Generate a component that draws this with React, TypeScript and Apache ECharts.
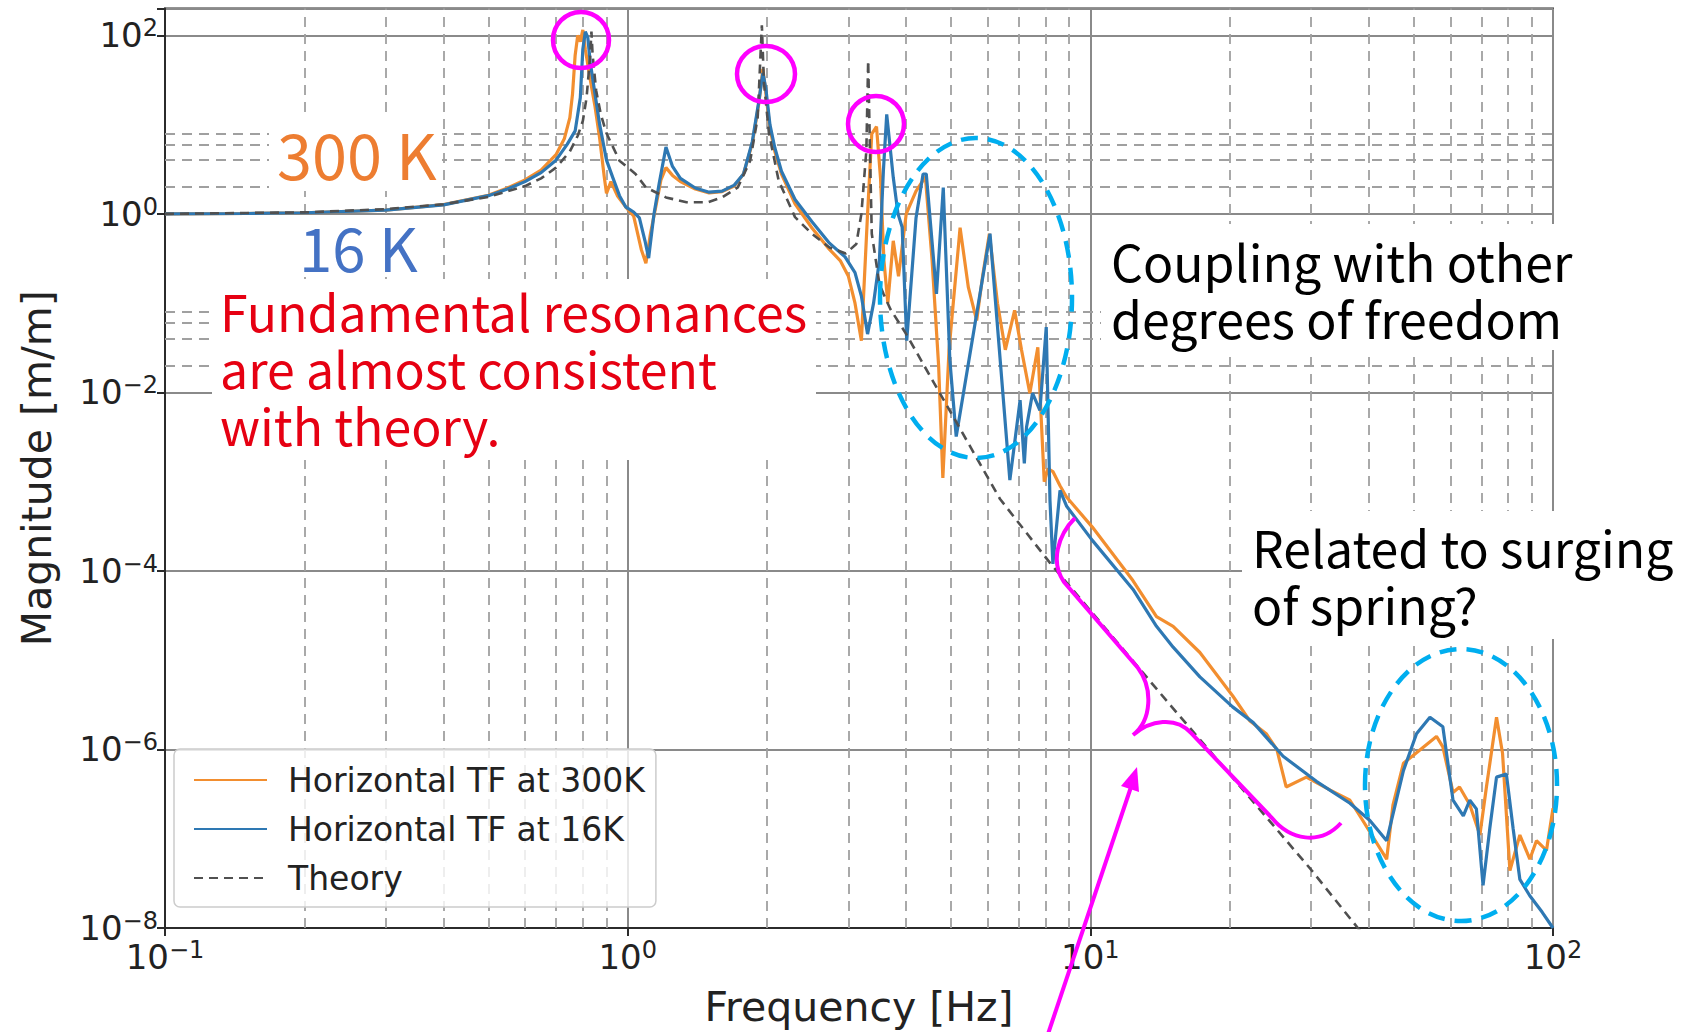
import React, { useEffect, useRef } from "react";
import * as echarts from "echarts";

// ---------- data ----------
const freq300K = [0.1, 0.15, 0.2, 0.3, 0.4, 0.5, 0.55, 0.6, 0.65, 0.7, 0.73, 0.75, 0.76, 0.77, 0.78, 0.79, 0.8, 0.81, 0.83, 0.85, 0.87, 0.89, 0.9, 0.92, 0.95, 0.99, 1.03, 1.07, 1.095, 1.12, 1.15, 1.18, 1.21, 1.25, 1.3, 1.4, 1.5, 1.6, 1.7, 1.78, 1.86, 1.92, 1.96, 1.99, 2.03, 2.08, 2.15, 2.3, 2.5, 2.73, 2.88, 3.0, 3.1, 3.2, 3.3, 3.37, 3.45, 3.52, 3.58, 3.65, 3.75, 3.85, 4.0, 4.2, 4.4, 4.55, 4.7, 4.8, 4.95, 5.23, 5.45, 5.68, 5.85, 6.05, 6.3, 6.55, 6.86, 7.1, 7.4, 7.7, 7.95, 8.1, 8.3, 8.6, 8.89, 10.1, 12.36, 13.9, 15.1, 17.25, 20.3, 22.1, 24.0, 25.3, 26.5, 29.3, 33, 36.4, 38.8, 43.7, 45.1, 47.5, 50.7, 56, 57.8, 60.8, 62.8, 66.1, 69.5, 71.8, 75.5, 77.8, 80.7, 84.8, 89.1, 92.1, 96.8, 100];
const mag300K = [1.0, 1.01, 1.03, 1.1, 1.27, 1.62, 1.95, 2.4, 3.1, 4.6, 7, 12, 22, 60, 100, 85, 115, 70, 32, 16, 7, 2.6, 1.7, 2.3, 1.6, 1.2, 0.95, 0.4, 0.28, 0.6, 1.2, 2.4, 3.3, 2.7, 2.3, 1.9, 1.72, 1.78, 2.05, 2.8, 6.2, 17, 42, 22, 9, 5, 2.8, 1.3, 0.7, 0.4, 0.3, 0.2, 0.1, 0.038, 1.0, 7.9, 9.5, 2.5, 0.3, 0.1, 0.5, 0.2, 1.0, 1.8, 2.6, 0.3, 0.02, 1.1e-3, 0.03, 0.7, 0.15, 0.064, 0.2, 0.6, 0.1, 0.03, 0.083, 0.03, 9.8e-3, 0.032, 1.0e-3, 1.4e-3, 1.3e-3, 9e-4, 6.7e-4, 3.1e-4, 7.8e-5, 3.07e-5, 2.4e-5, 1.22e-5, 4.0e-6, 2.1e-6, 1.5e-6, 1.0e-6, 3.8e-7, 4.9e-7, 3.5e-7, 2.7e-7, 1.6e-7, 5.9e-8, 2.4e-7, 7e-7, 9.2e-7, 1.4e-6, 1.07e-6, 3.3e-7, 3.8e-7, 2.4e-7, 1.1e-7, 3.8e-7, 2.3e-6, 9e-7, 4.4e-8, 1.1e-7, 5.9e-8, 9.5e-8, 7.4e-8, 2.2e-7];

const freq16K = [0.1, 0.15, 0.2, 0.3, 0.4, 0.5, 0.55, 0.6, 0.65, 0.7, 0.74, 0.77, 0.79, 0.8, 0.81, 0.82, 0.83, 0.85, 0.87, 0.9, 0.93, 0.96, 0.99, 1.03, 1.06, 1.09, 1.11, 1.14, 1.17, 1.21, 1.25, 1.3, 1.4, 1.5, 1.6, 1.7, 1.78, 1.86, 1.92, 1.96, 1.99, 2.03, 2.08, 2.15, 2.3, 2.5, 2.73, 2.95, 3.1, 3.2, 3.3, 3.4, 3.5, 3.57, 3.63, 3.75, 3.84, 3.92, 4.01, 4.2, 4.35, 4.42, 4.65, 4.81, 4.97, 5.13, 6.07, 6.7, 7.05, 7.2, 7.28, 7.5, 7.78, 8.03, 8.18, 8.3, 8.6, 8.89, 10.1, 12.37, 13.9, 15.1, 17.25, 20.3, 22.5, 26.1, 30.8, 36.4, 40.2, 43.7, 47.5, 50.7, 54.2, 57.8, 60.8, 64, 66.1, 68.3, 70.6, 73, 75.5, 79.3, 82, 84.8, 89.1, 94.8, 100];
const mag16K = [1.0, 1.01, 1.03, 1.1, 1.26, 1.6, 1.9, 2.3, 2.9, 4.0, 6.0, 8.5, 20, 70, 110, 95, 50, 22, 10, 4.0, 2.5, 1.6, 1.2, 1.05, 0.9, 0.5, 0.32, 1.0, 2.2, 5.6, 3.4, 2.5, 1.95, 1.75, 1.8, 2.1, 2.8, 6.5, 18, 38, 25, 10, 5.5, 3.0, 1.45, 0.82, 0.47, 0.33, 0.22, 0.12, 0.045, 0.1, 0.3, 3, 13, 2.57, 1.0, 0.71, 0.038, 0.9, 2.8, 2.8, 0.127, 1.97, 0.023, 3.2e-3, 0.6, 1.04e-3, 8.2e-3, 1.6e-3, 4.1e-3, 9.8e-3, 6.3e-3, 0.054, 6.2e-4, 1.2e-4, 8e-4, 5.3e-4, 2.2e-4, 6.2e-5, 2.4e-5, 1.4e-5, 6.5e-6, 3.0e-6, 2.0e-6, 8.4e-7, 4.4e-7, 2.5e-7, 1.6e-7, 9.5e-8, 5.8e-7, 1.5e-6, 2.3e-6, 1.8e-6, 2.7e-7, 1.8e-7, 2.7e-7, 2.16e-7, 3e-8, 1.3e-7, 4.9e-7, 5.3e-7, 1.3e-7, 3.5e-8, 2.3e-8, 1.5e-8, 1.0e-8];

const freqTheory = [0.1, 0.2, 0.3, 0.4, 0.5, 0.6, 0.65, 0.7, 0.75, 0.78, 0.8, 0.815, 0.83, 0.835, 0.84, 0.855, 0.875, 0.9, 0.96, 1.04, 1.095, 1.21, 1.34, 1.49, 1.6, 1.73, 1.84, 1.91, 1.95, 1.97, 2.02, 2.12, 2.3, 2.5, 2.73, 2.96, 3.12, 3.2, 3.28, 3.31, 3.34, 3.37, 3.5, 3.57, 3.7, 4.0, 5.0, 6.38, 8.18, 10, 15, 20, 30, 40];
const magTheory = [1.0, 1.04, 1.13, 1.28, 1.55, 2.05, 2.5, 3.3, 5.0, 7.5, 11, 20, 60, 110, 60, 24, 13, 8, 3.95, 2.8, 1.98, 1.53, 1.35, 1.35, 1.53, 1.98, 3.95, 12, 130, 30, 8, 2.36, 0.92, 0.6, 0.42, 0.36, 0.46, 1.0, 5.1, 52, 5, 0.6, 0.165, 0.128, 0.085, 0.045, 5.9e-3, 6.4e-4, 1.23e-4, 3.6e-5, 3.0e-6, 5.3e-7, 4.5e-8, 7e-9];

const xMinorGrid = [0.2, 0.3, 0.4, 0.5, 0.6, 0.7, 0.8, 0.9, 2, 3, 4, 5, 6, 7, 8, 9, 20, 30, 40, 50, 60, 70, 80, 90];
const yMinorGrid = [2e-8, 4e-8, 6e-8, 8e-8, 2e-6, 4e-6, 6e-6, 8e-6, 2e-4, 4e-4, 6e-4, 8e-4, 2e-2, 4e-2, 6e-2, 8e-2, 2, 4, 6, 8];

const seriesNames = ["Horizontal TF at 300K", "Horizontal TF at 16K", "Theory"];
const axisTitles = { x: "Frequency [Hz]", y: "Magnitude [m/m]" };

const noteFundamental = ["Fundamental resonances", "are almost consistent", "with theory."];
const noteCoupling = ["Coupling with other", "degrees of freedom"];
const noteSurging = ["Related to surging", "of spring?"];

const W = 1703;
const H = 1032;
const MPL = "'DejaVu Sans', sans-serif";
const JP = "'Noto Sans CJK JP', 'Noto Sans', sans-serif";

const pairs = (xs: number[], ys: number[]) => xs.map((x, i) => [x, ys[i]]);

const powLabel = (v: number) => {
  const e = Math.log10(v);
  const r = Math.round(e);
  if (Math.abs(e - r) > 1e-6) return "";
  const s = r < 0 ? "\u2212" + -r : String(r);
  return "10{sup|" + s + "}";
};

const BRACE =
  "M1075,518 C1058,535 1050,562 1064,582 L1138,668 C1153,688 1152,720 1133,735 C1150,720 1176,716 1191,733 L1272,818 C1290,840 1320,846 1341,823";

let braceRegistered = false;

const whiteBox = (x: number, y: number, w: number, h: number) => ({
  type: "rect", z: 99, silent: true,
  shape: { x, y, width: w, height: h },
  style: { fill: "#ffffff" },
});

const noteLines = (lines: string[], x: number, y0: number, step: number, size: number, color: string) =>
  lines.map((t, i) => ({
    type: "text", z: 100, x, y: y0 + i * step,
    style: { text: t, fill: color, fontSize: size, fontFamily: JP, lineHeight: Math.round(size * 1.05), verticalAlign: "middle", align: "left" },
  }));

export default function App() {
  const ref = useRef<HTMLDivElement>(null);

  useEffect(() => {
    if (!ref.current) return;
    if (!braceRegistered) {
      echarts.graphic.registerShape("brace", echarts.graphic.extendPath(BRACE, {}));
      braceRegistered = true;
    }
    const chart = echarts.init(ref.current, null, { renderer: "svg" });

    const labelRich = {
      sup: { fontSize: 24, lineHeight: 24, verticalAlign: "top", fontFamily: MPL, color: "#222" },
    };

    const option: any = {
      animation: false,
      backgroundColor: "#ffffff",
      grid: {
        left: 165,
        right: W - 1553,
        top: 8.5,
        bottom: H - 928.5,
        show: true,
        borderColor: "#2b2b2b",
        borderWidth: 2,
        backgroundColor: "transparent",
      },
      legend: {
        orient: "vertical",
        left: 174,
        top: 749,
        data: seriesNames,
        itemWidth: 73,
        itemHeight: 14,
        itemGap: 9,
        padding: [11, 11, 9, 19],
        backgroundColor: "rgba(255,255,255,0.8)",
        borderColor: "#cccccc",
        borderWidth: 1.5,
        borderRadius: 6,
        itemStyle: { opacity: 0, borderWidth: 0 },
        textStyle: {
          fontFamily: MPL,
          fontSize: 33,
          lineHeight: 40,
          color: "#222",
          padding: [0, 0, 0, 16],
        },
      },
      xAxis: {
        type: "log",
        logBase: 10,
        min: 0.1,
        max: 100,
        name: axisTitles.x,
        nameLocation: "middle",
        nameGap: 58,
        nameTextStyle: { fontFamily: MPL, fontSize: 41, color: "#222" },
        axisLine: { show: true, lineStyle: { color: "#2b2b2b", width: 2 } },
        axisTick: { show: true, length: 8, lineStyle: { color: "#2b2b2b", width: 2 } },
        axisLabel: {
          formatter: powLabel,
          fontFamily: MPL,
          fontSize: 34,
          lineHeight: 38,
          color: "#222",
          margin: 10,
          showMinLabel: true,
          showMaxLabel: true,
          rich: labelRich,
        },
        splitLine: { show: true, lineStyle: { color: "#8a8a8a", width: 2 } },
      },
      yAxis: {
        type: "log",
        logBase: 10,
        min: 1e-8,
        max: 200,
        interval: 2,
        name: axisTitles.y,
        nameLocation: "middle",
        nameRotate: 90,
        nameGap: 108,
        nameTextStyle: { fontFamily: MPL, fontSize: 41, color: "#222" },
        axisLine: { show: true, lineStyle: { color: "#2b2b2b", width: 2 } },
        axisTick: { show: true, length: 8, lineStyle: { color: "#2b2b2b", width: 2 } },
        axisLabel: {
          formatter: powLabel,
          fontFamily: MPL,
          fontSize: 34,
          lineHeight: 38,
          color: "#222",
          margin: 7,
          showMinLabel: true,
          showMaxLabel: true,
          rich: labelRich,
        },
        splitLine: { show: true, lineStyle: { color: "#8a8a8a", width: 2 } },
      },
      series: [
        {
          name: "grid-minor",
          type: "line",
          data: [],
          silent: true,
          z: 1,
          markLine: {
            silent: true,
            z: 1,
            symbol: ["none", "none"],
            label: { show: false },
            lineStyle: { color: "#a0a0a0", width: 1.8, type: [10, 7] },
            data: [
              ...xMinorGrid.map((v) => ({ xAxis: v })),
              ...yMinorGrid.map((v) => ({ yAxis: v })),
            ],
          },
        },
        {
          name: seriesNames[0],
          type: "line",
          data: pairs(freq300K, mag300K),
          showSymbol: false,
          symbol: "none",
          z: 3,
          lineStyle: { color: "#f28e2f", width: 3.2 },
          itemStyle: { color: "#f28e2f" },
        },
        {
          name: seriesNames[1],
          type: "line",
          data: pairs(freq16K, mag16K),
          showSymbol: false,
          symbol: "none",
          z: 4,
          lineStyle: { color: "#2e78b3", width: 3.2 },
          itemStyle: { color: "#2e78b3" },
        },
        {
          name: seriesNames[2],
          type: "line",
          data: pairs(freqTheory, magTheory),
          showSymbol: false,
          symbol: "none",
          z: 5,
          lineStyle: { color: "#505050", width: 2.6, type: [9, 6] },
          itemStyle: { color: "#505050" },
        },
      ],
      graphic: [
        // white text boxes of the slide
        whiteBox(269, 113, 173, 78),
        whiteBox(291, 217, 133, 60),
        whiteBox(212, 279, 604, 181),
        whiteBox(1101, 224, 482, 126),
        whiteBox(1242, 511, 442, 128),
        // annotation texts
        ...noteLines(["300 K"], 277, 152, 0, 63, "#ED7D31"),
        ...noteLines(["16 K"], 299, 245, 0, 60, "#4472C4"),
        ...noteLines(noteFundamental, 220, 310, 57, 50, "#E60012"),
        ...noteLines(noteCoupling, 1111, 259.5, 57, 50, "#000000"),
        ...noteLines(noteSurging, 1252, 546, 57, 50, "#000000"),
        // magenta circles
        { type: "ellipse", z: 110, shape: { cx: 581, cy: 40, rx: 28, ry: 28 }, style: { fill: "none", stroke: "#FF00FF", lineWidth: 4.5 } },
        { type: "ellipse", z: 110, shape: { cx: 766, cy: 74, rx: 29, ry: 28 }, style: { fill: "none", stroke: "#FF00FF", lineWidth: 4.5 } },
        { type: "ellipse", z: 110, shape: { cx: 876, cy: 124, rx: 28, ry: 28 }, style: { fill: "none", stroke: "#FF00FF", lineWidth: 4.5 } },
        // cyan dashed ellipses
        { type: "ellipse", z: 110, shape: { cx: 976, cy: 298, rx: 96, ry: 160 }, style: { fill: "none", stroke: "#00AEEF", lineWidth: 4.5, lineDash: [17, 10] } },
        { type: "ellipse", z: 110, shape: { cx: 1461, cy: 785, rx: 96, ry: 136 }, style: { fill: "none", stroke: "#00AEEF", lineWidth: 4.5, lineDash: [17, 10] } },
        // brace and arrow
        { type: "brace", z: 110, x: 0, y: 0, style: { fill: "none", stroke: "#FF00FF", lineWidth: 4 } },
        { type: "line", z: 110, shape: { x1: 1048, y1: 1034, x2: 1131, y2: 787 }, style: { stroke: "#FF00FF", lineWidth: 4 } },
        { type: "polygon", z: 110, shape: { points: [[1137, 767], [1139, 792], [1121, 786]] }, style: { fill: "#FF00FF" } },
      ],
    };

    chart.setOption(option);
    return () => {
      chart.dispose();
    };
  }, []);

  return (
    <div
      ref={ref}
      style={{ position: "absolute", left: 0, top: 0, width: W, height: H, background: "#fff" }}
    />
  );
}
